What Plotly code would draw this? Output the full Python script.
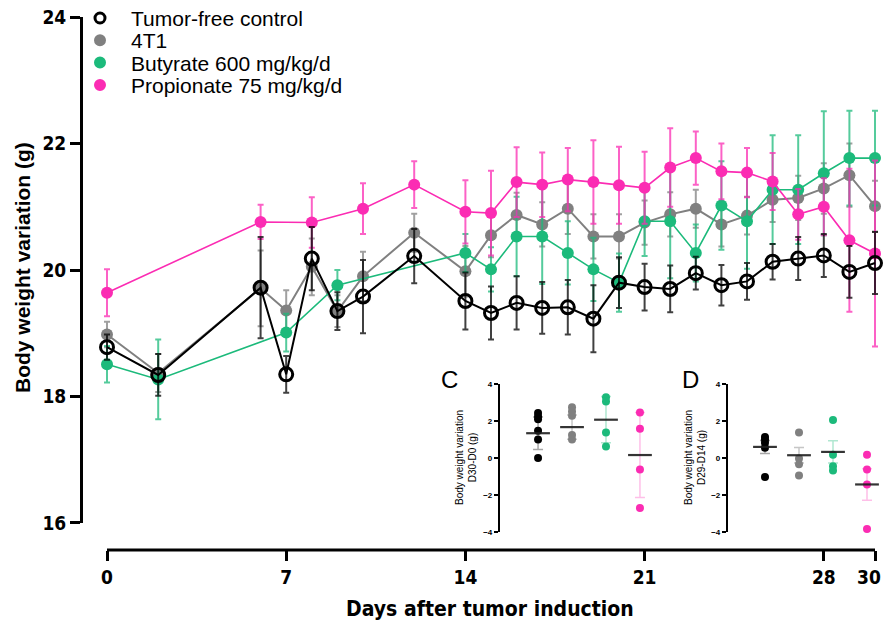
import plotly.graph_objects as go

# ---------------- main panel data ----------------
ctrl_days = [0, 2, 6, 7, 8, 9, 10, 12, 14, 15, 16, 17, 18, 19, 20, 21, 22, 23, 24, 25, 26, 27, 28, 29, 30]
ctrl_mean = [18.78, 18.34, 19.72, 18.35, 20.18, 19.35, 19.58, 20.22, 19.51, 19.32, 19.48, 19.40, 19.41, 19.23,
             19.80, 19.73, 19.70, 19.95, 19.76, 19.82, 20.13, 20.18, 20.23, 19.97, 20.11]
ctrl_err = [0.2, 0.33, 0.8, 0.29, 0.5, 0.3, 0.58, 0.43, 0.45, 0.42, 0.42, 0.41, 0.43, 0.53,
            0.4, 0.37, 0.37, 0.26, 0.32, 0.29, 0.28, 0.34, 0.34, 0.41, 0.49]

t1_days = [0, 2, 6, 7, 8, 9, 10, 12, 14, 15, 16, 17, 18, 19, 20, 21, 22, 23, 24, 25, 26, 27, 28, 29, 30]
t1_mean = [18.98, 18.37, 19.71, 19.36, 20.05, 19.35, 19.90, 20.59, 19.98, 20.55, 20.87, 20.72, 20.97, 20.53,
           20.53, 20.75, 20.88, 20.97, 20.72, 20.86, 21.11, 21.14, 21.29, 21.50, 21.01]
t1_err = [0.2, 0.3, 0.6, 0.32, 0.45, 0.25, 0.39, 0.3, 0.4, 0.35, 0.35, 0.35, 0.4, 0.35,
          0.35, 0.35, 0.35, 0.3, 0.35, 0.3, 0.35, 0.35, 0.4, 0.5, 0.4]

but_days = [0, 2, 7, 9, 14, 15, 16, 17, 18, 19, 20, 21, 22, 23, 24, 25, 26, 27, 28, 29, 30]
but_mean = [18.51, 18.27, 19.01, 19.76, 20.27, 20.01, 20.53, 20.53, 20.27, 20.01, 19.80, 20.77, 20.77, 20.27,
            21.02, 20.77, 21.27, 21.27, 21.53, 21.77, 21.77]
but_err = [0.29, 0.63, 0.3, 0.24, 0.3, 0.35, 0.63, 0.75, 0.5, 0.5, 0.46, 0.55, 0.9, 0.45,
           0.7, 0.75, 0.86, 0.86, 0.98, 0.75, 0.75]

pro_days = [0, 6, 8, 10, 12, 14, 15, 16, 17, 18, 19, 20, 21, 22, 23, 24, 25, 26, 27, 28, 29, 30]
pro_mean = [19.64, 20.76, 20.75, 20.97, 21.35, 20.92, 20.90, 21.39, 21.35, 21.43, 21.39, 21.34, 21.30, 21.62,
            21.77, 21.56, 21.54, 21.40, 20.88, 21.00, 20.47, 20.26]
pro_err = [0.37, 0.27, 0.4, 0.4, 0.37, 0.5, 0.67, 0.55, 0.51, 0.5, 0.66, 0.61, 0.57, 0.62,
           0.42, 0.44, 0.39, 0.45, 0.4, 0.45, 1.13, 1.47]

x_ticks = [0, 7, 14, 21, 28, 30]
x_ticktext = ["0", "7", "14", "21", "28", ""]   # last label drawn right-aligned below (edge of figure)
x_last_label = "30"
y_ticks = [16, 18, 20, 22, 24]

series_names = ["Tumor-free control", "4T1", "Butyrate 600 mg/kg/d", "Propionate 75 mg/kg/d"]

# ---------------- inset data ----------------
groups = [1, 2, 3, 4]
C_ctrl = [2.43, 2.25, 2.1, 1.48, 1.0, 0.0]
C_t1 = [2.75, 2.52, 2.28, 1.25, 1.0]
C_but = [3.28, 3.06, 1.38, 0.62]
C_pro = [2.46, 1.58, -0.62, -2.7]
C_mean = [1.34, 1.67, 2.07, 0.16]
C_err = [0.88, 0.65, 1.25, 2.3]

D_ctrl = [1.14, 1.0, 0.82, 0.56, -1.03]
D_t1 = [1.38, -0.03, -0.34, -0.94]
D_but = [2.05, 0.18, -0.45, -0.67]
D_pro = [0.18, -0.62, -1.43, -3.84]
D_mean = [0.6, 0.15, 0.33, -1.43]
D_err = [0.35, 0.42, 0.6, 0.85]
inset_ticks = [-4, -2, 0, 2, 4]

BLACK = "#000000"
GRAY = "#808080"
GREEN = "#1cba7b"
PINK = "#fb2cb3"
ERRC = {BLACK: "rgba(0,0,0,0.75)", GRAY: "rgba(128,128,128,0.75)",
        GREEN: "rgba(28,186,123,0.75)", PINK: "rgba(251,44,179,0.75)"}

FONT = "Liberation Sans, Arial, sans-serif"
COND = "DejaVu Sans Condensed, Liberation Sans, Arial, sans-serif"

fig = go.Figure()


def main_series(days, mean, err, color, name, hollow=False, lw=1.8):
    marker = dict(size=12, color=color, line=dict(width=0))
    if hollow:
        marker = dict(size=13, color=color, symbol="circle-open", line=dict(width=3, color=color))
    fig.add_trace(go.Scatter(
        x=days, y=mean, mode="lines+markers", name=name, showlegend=False, cliponaxis=False,
        line=dict(color=color, width=lw), marker=marker,
        error_y=dict(type="data", array=err, visible=True, color=ERRC[color], thickness=2, width=3),
        xaxis="x", yaxis="y"))


main_series(t1_days, t1_mean, t1_err, GRAY, series_names[1], lw=2)
main_series(but_days, but_mean, but_err, GREEN, series_names[2], lw=1.6)
main_series(pro_days, pro_mean, pro_err, PINK, series_names[3], lw=1.6)
main_series(ctrl_days, ctrl_mean, ctrl_err, BLACK, series_names[0], hollow=True, lw=2)


def inset(points_list, means, errs, xa, ya):
    colors = [BLACK, GRAY, GREEN, PINK]
    light = ["rgba(0,0,0,0.35)", "rgba(128,128,128,0.45)", "rgba(28,186,123,0.35)", "rgba(251,44,179,0.3)"]
    for g, pts, c, lc, m, e in zip(groups, points_list, colors, light, means, errs):
        fig.add_trace(go.Scatter(x=[g] * len(pts), y=pts, mode="markers", showlegend=False,
                                 marker=dict(size=8, color=c), xaxis=xa, yaxis=ya, cliponaxis=False))
        fig.add_trace(go.Scatter(x=[g], y=[m], mode="markers", showlegend=False,
                                 marker=dict(size=1, color="rgba(0,0,0,0)"),
                                 error_y=dict(type="data", array=[e], visible=True, color=lc, thickness=1.5, width=5),
                                 xaxis=xa, yaxis=ya, cliponaxis=False))
        fig.add_trace(go.Scatter(x=[g - 0.35, g + 0.35], y=[m, m], mode="lines", showlegend=False,
                                 line=dict(color="rgba(30,30,30,0.9)", width=2.2), xaxis=xa, yaxis=ya,
                                 cliponaxis=False))


inset([C_ctrl, C_t1, C_but, C_pro], C_mean, C_err, "x2", "y2")
inset([D_ctrl, D_t1, D_but, D_pro], D_mean, D_err, "x3", "y3")

# Paper area in screen pixels: x 20..884, y 10..620 (page body margin removed by post_script)
ML, W, MT, H = 20, 864, 10, 610


def px(xp):
    return (xp - ML) / W


def py(yp):
    return (MT + H - yp) / H


PPD = (875 - 107) / 30.0  # pixels per day
XPAD_L, XPAD_R = 0.4, 0.3

main_tick = dict(family=COND, size=19, color="black", weight="bold")
inset_tick = dict(family=FONT, size=8, color="black", weight="bold")
fig.update_layout(
    width=884, height=630,
    margin=dict(l=ML, r=884 - ML - W, t=MT, b=630 - MT - H, autoexpand=False),
    plot_bgcolor="white", paper_bgcolor="white", showlegend=False,
    xaxis=dict(domain=[px(107 - XPAD_L * PPD), px(875 + XPAD_R * PPD)], range=[-XPAD_L, 30 + XPAD_R],
               anchor="free", position=py(550), automargin=False, ticklabeloverflow="allow",
               showline=False, showgrid=False, zeroline=False,
               tickmode="array", tickvals=x_ticks, ticktext=x_ticktext, ticks="outside", ticklen=10,
               tickwidth=3, tickcolor="black", tickfont=main_tick),
    yaxis=dict(domain=[py(523), py(17)], range=[15.999, 24.001], anchor="free", position=px(81),
               automargin=False, ticklabeloverflow="allow",
               showline=True, linewidth=3, linecolor="black", showgrid=False, zeroline=False,
               tickmode="array", tickvals=y_ticks, ticks="outside", ticklen=10, tickwidth=3,
               tickcolor="black", tickfont=main_tick),
    xaxis2=dict(domain=[px(500), px(660)], range=[-0.12, 4.59], anchor="y2", visible=False),
    yaxis2=dict(domain=[py(532), py(384)], range=[-4.001, 4.001], anchor="x2", showline=True, linewidth=2.2,
                linecolor="black", showgrid=False, zeroline=False, tickmode="array", tickvals=inset_ticks,
                ticks="outside", ticklen=4, tickwidth=2, tickcolor="black", tickfont=inset_tick,
                automargin=False, ticklabeloverflow="allow"),
    xaxis3=dict(domain=[px(728), px(884)], range=[-0.088, 4.5], anchor="y3", visible=False),
    yaxis3=dict(domain=[py(532), py(384)], range=[-4.001, 4.001], anchor="x3", showline=True, linewidth=2.2,
                linecolor="black", showgrid=False, zeroline=False, tickmode="array", tickvals=inset_ticks,
                ticks="outside", ticklen=4, tickwidth=2, tickcolor="black", tickfont=inset_tick,
                automargin=False, ticklabeloverflow="allow"),
)

# x axis baseline spanning day 0 to day 30 only
fig.add_shape(type="line", xref="x", yref="paper", x0=x_ticks[0], x1=x_ticks[-1], y0=py(550), y1=py(550),
              line=dict(color="black", width=3))

# last x tick label, kept inside the figure edge
fig.add_annotation(xref="paper", yref="paper", x=px(883), y=py(577), text=x_last_label, showarrow=False,
                   xanchor="right", yanchor="middle", font=main_tick)

# zero reference lines in insets
for xr, yr in [("x2 domain", "y2"), ("x3 domain", "y3")]:
    fig.add_shape(type="line", xref=xr, yref=yr, x0=0, x1=1, y0=0, y1=0,
                  line=dict(color="rgba(60,60,60,0.9)", width=1.5, dash="dot"), layer="below")

# legend (symbols + labels)
leg_colors = [BLACK, GRAY, GREEN, PINK]
leg_y = [18.5, 40.8, 63.1, 85.4]
for i, (nm, c, yy) in enumerate(zip(series_names, leg_colors, leg_y)):
    if i == 0:
        fig.add_shape(type="circle", xref="paper", yref="paper", xsizemode="pixel", ysizemode="pixel",
                      xanchor=px(100), yanchor=py(yy - 0.5), x0=-5, x1=5, y0=-5, y1=5,
                      line=dict(color=c, width=3), fillcolor="rgba(0,0,0,0)")
    else:
        fig.add_shape(type="circle", xref="paper", yref="paper", xsizemode="pixel", ysizemode="pixel",
                      xanchor=px(100), yanchor=py(yy - 0.5), x0=-6, x1=6, y0=-6, y1=6,
                      line=dict(color=c, width=0), fillcolor=c)
    fig.add_annotation(xref="paper", yref="paper", x=px(129), y=py(yy), text=nm, showarrow=False,
                       xanchor="left", yanchor="middle", font=dict(family=FONT, size=21, color="black"))

ann = [
    dict(text="<b>Body weight variation (g)</b>", x=px(22), y=py(268), textangle=-90,
         font=dict(family=FONT, size=21, color="black")),
    dict(text="<b>Days after tumor induction</b>", x=px(490), y=py(609),
         font=dict(family=COND, size=21, color="black")),
    dict(text="C", x=px(449), y=py(379), font=dict(family=FONT, size=24, color="black")),
    dict(text="D", x=px(690), y=py(379), font=dict(family=FONT, size=24, color="black")),
    dict(text="Body weight variation<br>D30-D0 (g)", x=px(466), y=py(458), textangle=-90,
         font=dict(family=FONT, size=10, color="black")),
    dict(text="Body weight variation<br>D29-D14 (g)", x=px(695), y=py(458), textangle=-90,
         font=dict(family=FONT, size=10, color="black")),
]
for a in ann:
    fig.add_annotation(xref="paper", yref="paper", showarrow=False, xanchor="center", yanchor="middle", **a)

fig.write_html("out.html", config={"displayModeBar": False},
               post_script="document.body.style.margin='0';document.body.style.overflow='hidden';")
